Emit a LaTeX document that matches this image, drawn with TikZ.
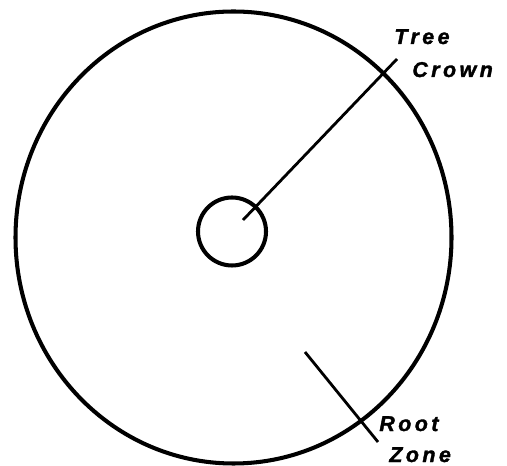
\documentclass[tikz,border=0pt]{standalone}
\usepackage{fontspec}
\usepackage{tikz}
\usetikzlibrary{positioning, shapes.geometric}
\newfontfamily\zonefont[LetterSpace=16, BoldItalicFeatures={FakeBold=1.6}]{Liberation Sans}

\begin{document}
\begin{tikzpicture}[
    ring/.style={draw, line width=2.3pt},
    leader/.style={draw, line width=1.6pt},
    zonelabel/.style={font=\zonefont\bfseries\itshape\fontsize{12.2}{14}\selectfont, inner sep=0pt, anchor=base west}
  ]
    \useasboundingbox (0,0) rectangle (10.14,9.3);

    % Circles
    \node[ring, ellipse, minimum width=8.72cm, minimum height=9.04cm, inner sep=0pt] (crown) at (4.67,4.55) {};
    \node[ring, circle, minimum size=1.36cm, inner sep=0pt] (trunk) at (4.64,4.67) {};

    % Labels
    \node[zonelabel] (tree) at (7.88,8.42) {Tree};
    \node[zonelabel] (crownlbl) at (8.24,7.76) {Crown};
    \node[zonelabel] (root) at (7.58,0.68) {Root};
    \node[zonelabel] (zone) at (7.78,0.06) {Zone};

    % Leaders
    \coordinate (c1) at (4.86,4.90);
    \coordinate (c2) at (7.94,8.12);
    \coordinate (r1) at (6.10,2.26);
    \coordinate (r2) at (7.56,0.46);
    \draw[leader] (c1) -- (c2);
    \draw[leader] (r1) -- (r2);
\end{tikzpicture}
\end{document}
